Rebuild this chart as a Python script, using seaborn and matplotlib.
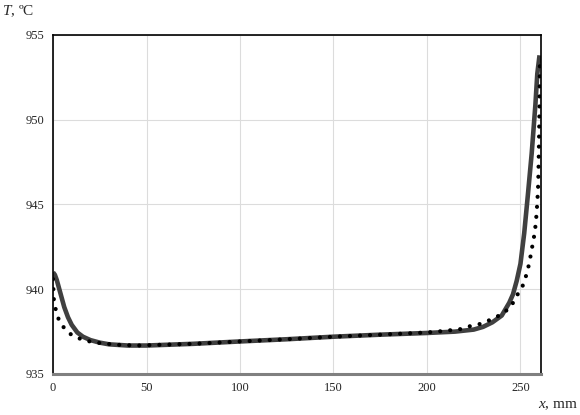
import matplotlib
matplotlib.use("Agg")
import matplotlib.pyplot as plt
import seaborn as sns

# ==============================
# DATOS
# ==============================

x_ticks = [0, 50, 100, 150, 200, 250]
T_ticks = [935, 940, 945, 950, 955]

# curva continua (gris oscuro)
solid_x = [0, 1, 2, 3, 4, 5, 6, 8, 10, 13, 16, 20, 25, 30, 40, 50, 75, 100,
           125, 150, 175, 200, 215, 225, 230, 235, 240, 244, 246, 248, 250,
           252, 254, 256, 258, 259, 260.2]
solid_T = [941.0, 940.85, 940.55, 940.15, 939.75, 939.35, 938.95, 938.35,
           937.9, 937.45, 937.2, 937.0, 936.85, 936.75, 936.68, 936.68,
           936.78, 936.92, 937.05, 937.2, 937.32, 937.42, 937.5, 937.62,
           937.78, 938.05, 938.45, 939.2, 939.7, 940.5, 941.5, 943.3, 945.6,
           948.0, 950.9, 952.7, 953.8]

# curva punteada (negra)
dotted_x = [0, 0.2, 0.5, 1.2, 2.1, 3.2, 5, 6.9, 9, 11.8, 14.5, 17.5, 22, 27,
            35, 45, 75, 100, 125, 150, 175, 200, 210, 218, 223, 228, 234, 239,
            242, 245, 247, 249, 251, 252.5, 254, 255, 256, 257, 258, 258.5,
            259, 259.5, 259.9, 260.2, 260.4]
dotted_T = [940.6, 940.0, 939.3, 938.9, 938.6, 938.15, 937.85, 937.6, 937.38,
            937.2, 937.08, 936.97, 936.87, 936.8, 936.72, 936.68, 936.78,
            936.92, 937.05, 937.2, 937.32, 937.45, 937.55, 937.65, 937.82,
            937.94, 938.2, 938.47, 938.7, 939.0, 939.4, 939.8, 940.15, 940.6,
            941.2, 941.7, 942.35, 942.9, 943.7, 944.3, 945.1, 946.2, 948.5,
            951.0, 953.6]

# ==============================
# ESTILO
# ==============================

sns.set_style("white")
plt.rcParams["font.family"] = ["Liberation Serif", "DejaVu Serif"]
plt.rcParams["mathtext.fontset"] = "custom"
plt.rcParams["mathtext.it"] = "Liberation Serif:italic"
plt.rcParams["mathtext.rm"] = "Liberation Serif"

fig = plt.figure(figsize=(5.8, 4.15), dpi=100)
ax = fig.add_axes([0.0914, 0.0988, 0.8414, 0.8169])

sns.lineplot(x=solid_x, y=solid_T, color="#404040", linewidth=3.3,
             solid_capstyle="butt", ax=ax)
sns.lineplot(x=dotted_x, y=dotted_T, color="black", linewidth=3.0,
             linestyle=(0, (0.01, 2.4)), dash_capstyle="round", ax=ax)

ax.set_xlim(0, 261)
ax.set_ylim(935, 955)
ax.set_xticks(x_ticks)
ax.set_yticks(T_ticks)
ax.tick_params(length=0, labelsize=9, pad=6)
ax.grid(True, color="#dcdcdc", linewidth=0.8)
ax.set_axisbelow(True)

for side in ["left", "top", "right"]:
    ax.spines[side].set_color("black")
    ax.spines[side].set_linewidth(1.2)
ax.spines["bottom"].set_color("#808080")
ax.spines["bottom"].set_linewidth(2.2)

fig.text(0.003, 0.973, r"$T$, ºC", fontsize=11, ha="left", va="center")
fig.text(0.997, 0.024, r"$x$, mm", fontsize=11, ha="right", va="center")

fig.savefig("out.png", dpi=100)
